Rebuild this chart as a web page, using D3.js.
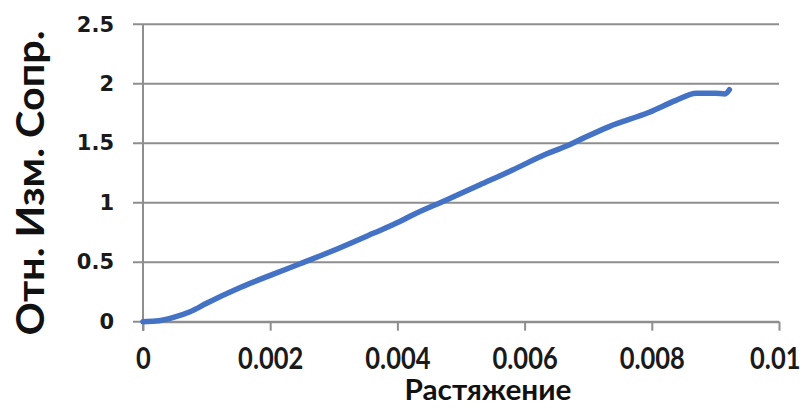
<!DOCTYPE html>
<html>
<head>
<meta charset="utf-8">
<script src="https://cdn.jsdelivr.net/npm/d3@7"></script>
<style>
  html, body { margin: 0; padding: 0; background: #fff; }
  svg { display: block; }
</style>
</head>
<body>
<svg id="chart" width="810" height="409"></svg>
<script>
// Strain (x) and relative resistance change (y)
const strain = [0, 0.0002, 0.00048, 0.00074, 0.001, 0.00152, 0.00205, 0.00246, 0.00309, 0.00362,
  0.00403, 0.00424, 0.00477, 0.00529, 0.00581, 0.00634, 0.00665, 0.00686, 0.00733, 0.00796,
  0.00838, 0.0087, 0.009, 0.00915, 0.00922];
const resistance = [0, 0.005, 0.037, 0.084, 0.155, 0.285, 0.4, 0.485, 0.62, 0.743,
  0.84, 0.897, 1.023, 1.149, 1.275, 1.41, 1.475, 1.527, 1.64, 1.76,
  1.86, 1.92, 1.92, 1.915, 1.95];
const xTicks = [0, 0.002, 0.004, 0.006, 0.008, 0.01];
const xTickLabels = ["0", "0.002", "0.004", "0.006", "0.008", "0.01"];
const yTicks = [0, 0.5, 1, 1.5, 2, 2.5];
const yTickLabels = ["0", "0.5", "1", "1.5", "2", "2.5"];
const xTitle = "Растяжение";
const yTitle = "Отн. Изм. Сопр.";

const svg = d3.select("#chart");
const gridColor = "#8e8e8e";

const x = d3.scaleLinear().domain([0, 0.01]).range([143, 779]);
const y = d3.scaleLinear().domain([0, 2.5]).range([321.7, 24.3]);

// Horizontal gridlines (extend slightly left of the axis as tick marks)
svg.append("g")
  .selectAll("line")
  .data(yTicks)
  .join("line")
  .attr("x1", 133).attr("x2", x(0.01))
  .attr("y1", d => y(d)).attr("y2", d => y(d))
  .attr("stroke", gridColor).attr("stroke-width", 2);

// Y axis
const yAxis = d3.axisLeft(y)
  .tickValues(yTicks)
  .tickFormat((d, i) => yTickLabels[i])
  .tickSize(0)
  .tickPadding(29);
const gy = svg.append("g").attr("transform", `translate(${x(0)},0)`).call(yAxis);
gy.select(".domain").remove();
gy.selectAll("text")
  .attr("font-family", "'DejaVu Sans', sans-serif")
  .attr("font-weight", "bold")
  .attr("font-size", 21)
  .attr("fill", "#1a1a1a");
svg.append("line")
  .attr("x1", x(0)).attr("x2", x(0))
  .attr("y1", y(2.5)).attr("y2", 331)
  .attr("stroke", gridColor).attr("stroke-width", 2);

// X axis
const xAxis = d3.axisBottom(x)
  .tickValues(xTicks)
  .tickFormat((d, i) => xTickLabels[i])
  .tickSize(9)
  .tickPadding(17)
  .tickSizeOuter(0);
const gx = svg.append("g").attr("transform", `translate(0,${y(0)})`).call(xAxis);
gx.select(".domain").attr("stroke", gridColor).attr("stroke-width", 2);
gx.selectAll(".tick line").attr("stroke", gridColor).attr("stroke-width", 2);
gx.selectAll("text")
  .attr("font-family", "Lato, sans-serif")
  .attr("font-weight", "bold")
  .attr("font-size", 30)
  .attr("fill", "#1a1a1a")
  .each(function () {
    // narrow the tall labels a little
    const w = this.getComputedTextLength();
    d3.select(this).attr("textLength", w * 0.85).attr("lengthAdjust", "spacingAndGlyphs");
  });
// keep the last label inside the right edge
gx.selectAll(".tick").filter(d => d === 0.01).select("text")
  .attr("text-anchor", "end")
  .attr("x", 21);

// Data line
const line = d3.line()
  .x((d, i) => x(strain[i]))
  .y(d => y(d))
  .curve(d3.curveMonotoneX);
svg.append("path")
  .datum(resistance)
  .attr("d", line)
  .attr("fill", "none")
  .attr("stroke", "#4472c4")
  .attr("stroke-width", 5.5)
  .attr("stroke-linecap", "round")
  .attr("stroke-linejoin", "round");

// Axis titles
svg.append("text")
  .attr("x", 488).attr("y", 400)
  .attr("text-anchor", "middle")
  .attr("font-family", "Lato, sans-serif")
  .attr("font-weight", "bold")
  .attr("font-size", 28)
  .attr("textLength", 167)
  .attr("lengthAdjust", "spacingAndGlyphs")
  .attr("fill", "#111")
  .text(xTitle);

svg.append("text")
  .attr("transform", "translate(44,183) rotate(-90)")
  .attr("text-anchor", "middle")
  .attr("font-family", "Lato, sans-serif")
  .attr("font-weight", "bold")
  .attr("font-size", 39)
  .attr("textLength", 305)
  .attr("lengthAdjust", "spacingAndGlyphs")
  .attr("fill", "#111")
  .text(yTitle);
</script>
</body>
</html>
